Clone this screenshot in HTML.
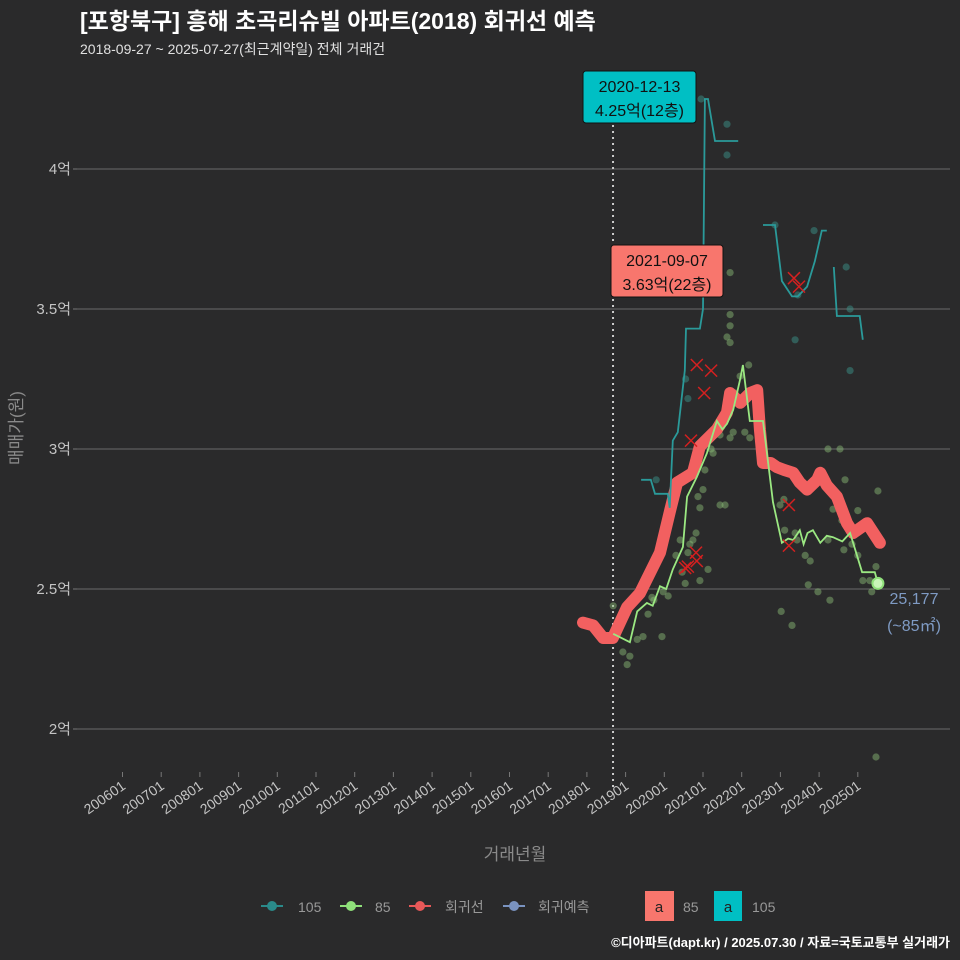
<!DOCTYPE html>
<html><head><meta charset="utf-8">
<style>
html,body{margin:0;padding:0;background:#2a2a2b;}
svg{display:block;font-family:"Liberation Sans","Noto Sans CJK KR",sans-serif;}
</style></head>
<body>
<svg id="chart" width="960" height="960" viewBox="0 0 960 960">
<rect width="960" height="960" fill="#2a2a2b"/>
<text x="80" y="29" fill="#ffffff" font-size="23" font-weight="bold">[포항북구] 흥해 초곡리슈빌 아파트(2018) 회귀선 예측</text>
<text x="80" y="54" fill="#e0e0e0" font-size="14">2018-09-27 ~ 2025-07-27(최근계약일) 전체 거래건</text>
<g id="grid"></g>
<g id="axes"></g>
<g id="marks"></g>
<g id="labels"></g>
<text transform="translate(22,428) rotate(-90)" text-anchor="middle" fill="#8a8a8a" font-size="17">매매가(원)</text>
<text x="515" y="860" text-anchor="middle" fill="#8a8a8a" font-size="17">거래년월</text>
<g id="legend">
  <g><line x1="261" y1="906" x2="283" y2="906" stroke="#2a8a8a" stroke-width="2"/><circle cx="272" cy="906" r="5" fill="#2a8a8a"/><text x="298" y="912" fill="#999" font-size="14">105</text></g>
  <g><line x1="340" y1="906" x2="362" y2="906" stroke="#8fe07a" stroke-width="2"/><circle cx="351" cy="906" r="5" fill="#8fe07a"/><text x="375" y="912" fill="#999" font-size="14">85</text></g>
  <g><line x1="409" y1="906" x2="431" y2="906" stroke="#e85858" stroke-width="2"/><circle cx="420" cy="906" r="5" fill="#e85858"/><text x="445" y="912" fill="#999" font-size="14">회귀선</text></g>
  <g><line x1="503" y1="906" x2="525" y2="906" stroke="#7a93c0" stroke-width="2"/><circle cx="514" cy="906" r="5" fill="#7a93c0"/><text x="538" y="912" fill="#999" font-size="14">회귀예측</text></g>
  <g><rect x="645" y="891" width="29" height="30" fill="#F8766D"/><text x="659" y="912" text-anchor="middle" fill="#222" font-size="15">a</text><text x="683" y="912" fill="#999" font-size="14">85</text></g>
  <g><rect x="714" y="891" width="28" height="30" fill="#00BFC4"/><text x="728" y="912" text-anchor="middle" fill="#222" font-size="15">a</text><text x="752" y="912" fill="#999" font-size="14">105</text></g>
</g>
<text x="950" y="947" text-anchor="end" fill="#ffffff" font-size="13" font-weight="bold">©디아파트(dapt.kr) / 2025.07.30 / 자료=국토교통부 실거래가</text>
</svg>
<script>
const yTicks=[2,2.5,3,3.5,4];
const yTickLabels=["2억","2.5억","3억","3.5억","4억"];
const xTickYears=[2006,2007,2008,2009,2010,2011,2012,2013,2014,2015,2016,2017,2018,2019,2020,2021,2022,2023,2024,2025];
const xTickLabels=["200601","200701","200801","200901","201001","201101","201201","201301","201401","201501","201601","201701","201801","201901","202001","202101","202201","202301","202401","202501"];
const regYears=[2017.9,2018.16,2018.42,2018.67,2019.04,2019.37,2019.89,2020.15,2020.33,2020.74,2020.92,2021.36,2021.62,2021.7,2021.96,2022.22,2022.4,2022.47,2022.55,2022.75,2022.91,2023.1,2023.33,2023.5,2023.69,2023.95,2024.03,2024.2,2024.46,2024.72,2024.88,2025.24,2025.57];
const regVals=[2.38,2.37,2.325,2.325,2.435,2.485,2.63,2.78,2.88,2.915,3.01,3.07,3.13,3.2,3.165,3.2,3.21,3.07,2.95,2.95,2.935,2.925,2.915,2.88,2.855,2.89,2.915,2.87,2.83,2.735,2.70,2.735,2.665];
const s85Years=[2018.68,2019.11,2019.3,2019.55,2019.7,2019.89,2020.05,2020.22,2020.48,2020.59,2020.84,2021.1,2021.36,2021.5,2021.62,2021.78,2021.96,2022.03,2022.21,2022.55,2022.81,2023.04,2023.2,2023.33,2023.5,2023.6,2023.7,2023.84,2024.03,2024.2,2024.36,2024.6,2024.8,2025.11,2025.44,2025.52];
const s85Vals=[2.34,2.31,2.42,2.45,2.44,2.51,2.5,2.57,2.65,2.83,2.90,2.985,3.10,3.07,3.09,3.14,3.25,3.30,3.10,3.10,2.81,2.665,2.68,2.675,2.71,2.66,2.7,2.71,2.665,2.69,2.685,2.67,2.70,2.56,2.56,2.52];
const t105aYears=[2019.40,2019.65,2019.76,2020.09,2020.14,2020.22,2020.35,2020.53,2020.56,2020.92,2021.0,2021.05,2021.13,2021.31,2021.91];
const t105aVals=[2.89,2.89,2.84,2.84,2.79,3.03,3.06,3.28,3.43,3.43,3.50,4.25,4.25,4.10,4.10];
const t105bYears=[2022.55,2022.86,2023.04,2023.30,2023.45,2023.69,2023.89,2024.07,2024.20];
const t105bVals=[3.80,3.80,3.60,3.545,3.545,3.58,3.67,3.78,3.78];
const t105cYears=[2024.38,2024.46,2025.05,2025.13];
const t105cVals=[3.65,3.475,3.475,3.39];
const p85Years=[2018.68,2019.04,2018.93,2019.11,2019.45,2019.58,2019.68,2019.94,2019.97,2020.10,2020.30,2020.41,2020.46,2020.54,2020.61,2020.66,2020.74,2020.82,2020.87,2020.92,2020.92,2021.00,2021.13,2021.21,2021.26,2021.44,2021.57,2021.70,2021.78,2021.83,2021.96,2022.08,2022.21,2022.47,2022.86,2022.99,2023.09,2023.02,2023.30,2023.38,2023.43,2023.64,2023.72,2023.77,2023.97,2024.23,2024.28,2024.36,2024.59,2024.64,2024.85,2025.00,2025.13,2025.31,2025.36,2025.47,2025.47,2025.52,2025.00,2024.67,2024.23,2024.54,2023.11,2021.44,2021.05,2021.49,2019.30,2019.73,2021.70,2021.70,2021.70,2021.62,2021.70,2022.18];
const p85Vals=[2.44,2.23,2.275,2.26,2.33,2.41,2.47,2.33,2.49,2.475,2.62,2.675,2.56,2.52,2.63,2.66,2.675,2.70,2.83,2.79,2.53,2.855,2.57,3.0,2.985,2.80,2.80,3.04,3.06,3.2,3.26,3.06,3.04,3.07,2.945,2.80,2.82,2.42,2.37,2.70,2.675,2.62,2.515,2.60,2.49,2.675,2.46,2.785,2.745,2.64,2.66,2.62,2.53,2.53,2.49,2.58,1.90,2.85,2.78,2.89,3.0,3.0,2.71,3.05,2.925,3.08,2.32,2.46,3.63,3.48,3.44,3.40,3.38,3.30];
const p105Years=[2020.95,2021.62,2021.62,2022.86,2023.87,2024.70,2024.80,2023.45,2023.38,2024.80,2019.79,2020.61,2020.55];
const p105Vals=[4.25,4.16,4.05,3.80,3.78,3.65,3.5,3.55,3.39,3.28,2.89,3.18,3.25];
const xYears=[2020.84,2021.21,2021.03,2020.69,2020.82,2020.84,2020.61,2020.54,2023.22,2023.22,2023.35,2023.48];
const xVals=[3.30,3.28,3.20,3.03,2.63,2.60,2.58,2.575,2.80,2.655,3.61,3.58];

const NS="http://www.w3.org/2000/svg";
const L=77,R=950,T=65,B=772;
function X(yr){return 122.5+(yr-2006)*38.7;}
function Y(v){return 729-(v-2)*280;}
function mk(tag,attrs,parent){const e=document.createElementNS(NS,tag);for(const k in attrs)e.setAttribute(k,attrs[k]);parent.appendChild(e);return e;}
const grid=document.getElementById('grid'),axes=document.getElementById('axes'),marks=document.getElementById('marks'),labels=document.getElementById('labels');
yTicks.forEach((v,i)=>{
  const g=mk('line',{x1:L,x2:R,y1:Y(v),y2:Y(v),stroke:'#6b6b6b','stroke-width':1},grid);
  
  
  const tk=mk('line',{x1:L-4,x2:L,y1:Y(v),y2:Y(v),stroke:'#777'},axes);
  
  
  const t=mk('text',{x:L-6,y:Y(v)+5,'text-anchor':'end',fill:'#c4c4c4','font-size':15},axes);
  t.textContent=yTickLabels[i];
  
  
});
xTickYears.forEach((yr,i)=>{
  const x=X(yr);
  const tk=mk('line',{x1:x,x2:x,y1:B,y2:B+5,stroke:'#777'},axes);
  
  
  const t=mk('text',{transform:`translate(${x+4},${B+16}) rotate(-35)`,'text-anchor':'end',fill:'#c4c4c4','font-size':14},axes);
  t.textContent=xTickLabels[i];
  
  
});
const vl=mk('line',{x1:X(2018.675),x2:X(2018.675),y1:125,y2:790,stroke:'#cccccc','stroke-width':2,'stroke-dasharray':'2,4'},marks);


function pts(xs,vs){return xs.map((x,i)=>X(x).toFixed(1)+','+Y(vs[i]).toFixed(1)).join(' ');}
p85Years.forEach((yr,i)=>{
  const c=mk('circle',{cx:X(yr),cy:Y(p85Vals[i]),r:3.6,fill:'#8fc07a','fill-opacity':0.45},marks);
  
  
});
p105Years.forEach((yr,i)=>{
  const c=mk('circle',{cx:X(yr),cy:Y(p105Vals[i]),r:3.6,fill:'#3a8f88','fill-opacity':0.5},marks);
  
  
});
const reg=mk('polyline',{points:pts(regYears,regVals),fill:'none',stroke:'#f26060','stroke-width':12,'stroke-linejoin':'round','stroke-linecap':'round'},marks);


[[t105aYears,t105aVals],[t105bYears,t105bVals],[t105cYears,t105cVals]].forEach(s=>{
  const p=mk('polyline',{points:pts(s[0],s[1]),fill:'none',stroke:'#2a9a9a','stroke-width':1.8},marks);
  
  
});
const l85=mk('polyline',{points:pts(s85Years,s85Vals),fill:'none',stroke:'#9be882','stroke-width':1.8},marks);


xYears.forEach((yr,i)=>{
  const x=X(yr),y=Y(xVals[i]);
  const p=mk('path',{d:`M${x-6},${y-6}L${x+6},${y+6}M${x-6},${y+6}L${x+6},${y-6}`,stroke:'#d42020','stroke-width':1.5},marks);
  
  
});
const endDot=mk('circle',{cx:X(2025.52),cy:Y(2.52),r:5.5,fill:'#c8f5b8',stroke:'#8fe07a','stroke-width':2},marks);


function box(x,y,w,h,fill,l1,l2,name){
  const g=mk('g',{},labels);
  
  
  mk('rect',{x:x,y:y,width:w,height:h,rx:3,fill:fill,stroke:'#111','stroke-width':1},g);
  const a=mk('text',{x:x+w/2,y:y+21,'text-anchor':'middle',fill:'#111','font-size':16},g);a.textContent=l1;
  const b=mk('text',{x:x+w/2,y:y+45,'text-anchor':'middle',fill:'#111','font-size':16},g);b.textContent=l2;
}
box(583,71,113,52,'#00BFC4','2020-12-13','4.25억(12층)','max-label-105');
box(611,245,112,52,'#F8766D','2021-09-07','3.63억(22층)','max-label-85');
const a1=mk('text',{x:914,y:604,'text-anchor':'middle',fill:'#7f9bc4','font-size':16},labels);
a1.textContent='25,177';


const a2=mk('text',{x:914,y:631,'text-anchor':'middle',fill:'#7f9bc4','font-size':16},labels);
a2.textContent='(~85㎡)';


</script>
</body></html>
